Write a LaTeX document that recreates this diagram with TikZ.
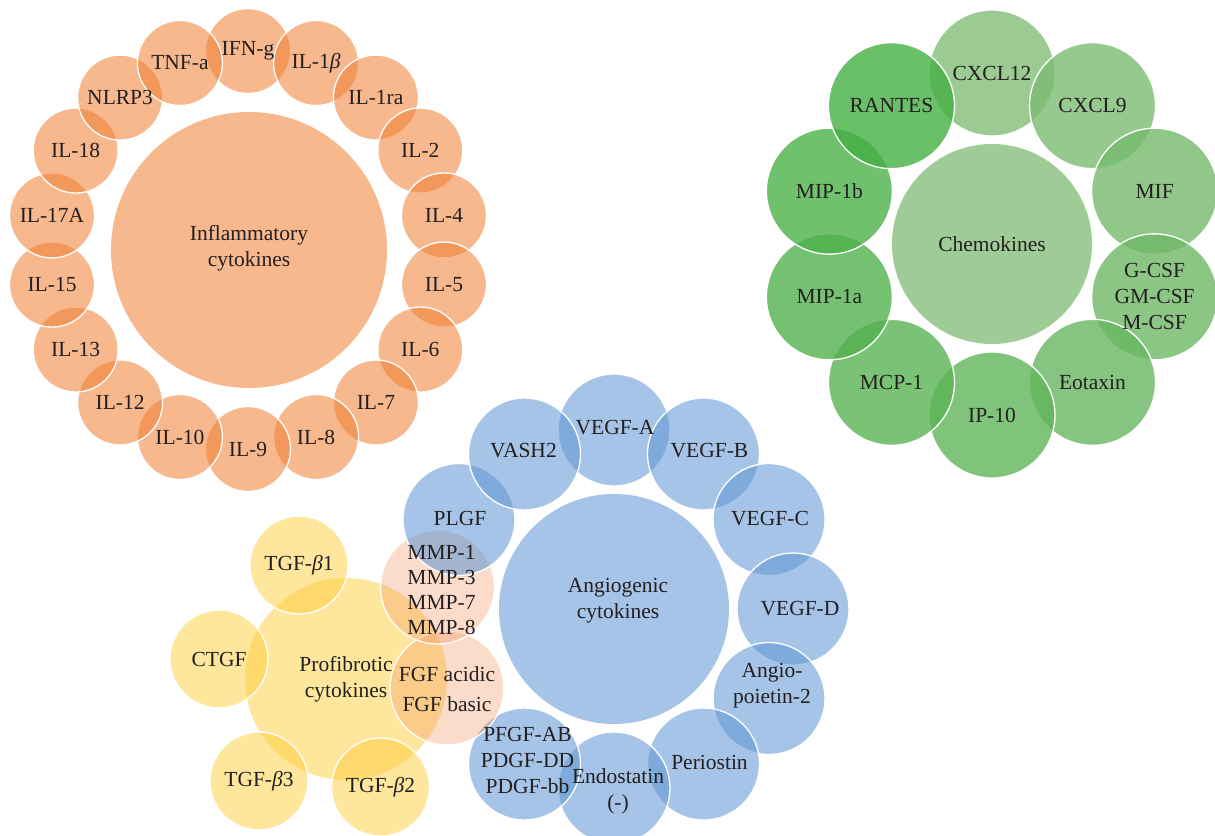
\documentclass[tikz,border=0pt]{standalone}
\usepackage{fontspec}
\setmainfont{Liberation Serif}
\definecolor{orb}{RGB}{240,125,49}
\definecolor{blb}{RGB}{95,150,212}
\definecolor{yeb}{RGB}{255,205,60}
\definecolor{peb}{RGB}{243,153,100}
\definecolor{gdark}{RGB}{69,175,67}
\definecolor{glight}{RGB}{131,189,120}
\definecolor{gcen}{RGB}{134,190,124}
\definecolor{txt}{RGB}{35,31,32}
\begin{document}
\begin{tikzpicture}[x=1pt,y=-1pt,
 bub/.style={circle,inner sep=0pt,draw=white,line width=1.3pt},
 hub/.style={circle,inner sep=0pt,draw=none},
 orangef/.style={fill=orb,fill opacity=0.55},
 bluef/.style={fill=blb,fill opacity=0.56},
 yellowf/.style={fill=yeb,fill opacity=0.5},
 peachf/.style={fill=peb,fill opacity=0.35},
 greenf/.style={fill opacity=0.8},
 lbl/.style={font=\fontsize{21.5}{26}\selectfont,text=txt,align=center,inner sep=0pt,text opacity=1}
]
\useasboundingbox (0,0) rectangle (1215,835);

% ---------- Inflammatory cytokines ----------
\def\olist{IFN-g/90, IL-1\textit{β}/70, IL-1ra/50, IL-2/30, IL-4/10, IL-5/-10, IL-6/-30, IL-7/-50, IL-8/-70, IL-9/-90, IL-10/-110, IL-12/-130, IL-13/-150, IL-15/-170, IL-17A/170, IL-18/150, NLRP3/130, TNF-a/110}
\node[hub,orangef,minimum size=276pt] (infl) at (249,250) {};
\foreach \t/\a [count=\i] in \olist
  \node[bub,orangef,minimum size=85pt] (o\i) at ({248+199*cos(\a)},{250-199*sin(\a)}) {};

% ---------- Chemokines ----------
\def\glist{CXCL12/90/9, CXCL9/54/8, MIF/18/7, {G-CSF\\GM-CSF\\M-CSF}/-18/6, Eotaxin/-54/5, IP-10/-90/4, MCP-1/-126/3, MIP-1a/-162/2, MIP-1b/162/1, RANTES/126/0}
\node[hub,greenf,fill=gcen,minimum size=200pt] (chem) at (992,244) {};
\foreach \t/\a/\k [count=\i] in \glist {
  \pgfmathtruncatemacro\pc{round(100*\k/9)}
  \node[bub,greenf,fill=glight!\pc!gdark,minimum size=126pt] (g\i) at ({992+171*cos(\a)},{244-171*sin(\a)}) {};
}

% ---------- Profibrotic cytokines ----------
\node[hub,yellowf,minimum size=202pt] (prof) at (346,679) {};
\node[bub,yellowf,minimum size=98pt] (y1) at (299,565) {};
\node[bub,yellowf,minimum size=98pt] (y2) at (219,659) {};
\node[bub,yellowf,minimum size=98pt] (y3) at (259,781) {};
\node[bub,yellowf,minimum size=98pt] (y4) at (380.5,787) {};

% ---------- Angiogenic cytokines ----------
\def\blistA{VEGF-A/90/1/-2, VEGF-B/60/6/-3, VEGF-C/30/1/-1, VEGF-D/0/7/0, {Angio-\\poietin-2}/-30/3/-13, Periostin/-60/6/-2, {Endostatin\\(-)}/-90/4/3, {PFGF-AB\\PDGF-DD\\PDGF-bb}/-120/3/-4}
\def\blistB{PLGF/150/1/-1, VASH2/120/-1/-3}
\node[hub,bluef,minimum size=230pt] (angio) at (614,609) {};
\foreach \t/\a/\dx/\dy [count=\i] in \blistA
  \node[bub,bluef,minimum size=112pt] (b\i) at ({614+179*cos(\a)},{609-179*sin(\a)}) {};
\node[bub,peachf,minimum size=114pt] (fgf) at (447,688) {};
\node[bub,peachf,minimum size=114pt] (mmp) at (437.5,587) {};
\foreach \t/\a/\dx/\dy [count=\i from 9] in \blistB
  \node[bub,bluef,minimum size=112pt] (b\i) at ({614+179*cos(\a)},{609-179*sin(\a)}) {};

% ---------- Labels ----------
\node[lbl] (t-infl) at ([yshift=2pt]infl.center) {Inflammatory\\cytokines};
\foreach \t/\a [count=\i] in \olist
  \node[lbl] (to\i) at (o\i) {\t};
\node[lbl] (t-chem) at (chem) {Chemokines};
\foreach \t/\a/\k [count=\i] in \glist
  \node[lbl] (tg\i) at (g\i) {\t};
\node[lbl] (t-prof) at (prof) {Profibrotic\\cytokines};
\node[lbl] (ty1) at (y1) {TGF-\textit{β}1};
\node[lbl] (ty2) at (y2) {CTGF};
\node[lbl] (ty3) at (y3) {TGF-\textit{β}3};
\node[lbl] (ty4) at (y4) {TGF-\textit{β}2};
\node[lbl] (t-angio) at ([xshift=4pt,yshift=8pt]angio.center) {Angiogenic\\cytokines};
\foreach \t/\a/\dx/\dy [count=\i] in \blistA
  \node[lbl] (tb\i) at ([xshift=\dx pt,yshift=-\dy pt]b\i.center) {\t};
\foreach \t/\a/\dx/\dy [count=\i from 9] in \blistB
  \node[lbl] (tb\i) at ([xshift=\dx pt,yshift=-\dy pt]b\i.center) {\t};
\node[lbl,font=\fontsize{21.5}{25}\selectfont] (t-mmp) at ([xshift=4pt,yshift=-3pt]mmp.center) {MMP-1\\MMP-3\\MMP-7\\MMP-8};
\node[lbl,font=\fontsize{21.5}{30}\selectfont] (t-fgf) at ([yshift=-1pt]fgf.center) {FGF acidic\\FGF basic};
\end{tikzpicture}
\end{document}
